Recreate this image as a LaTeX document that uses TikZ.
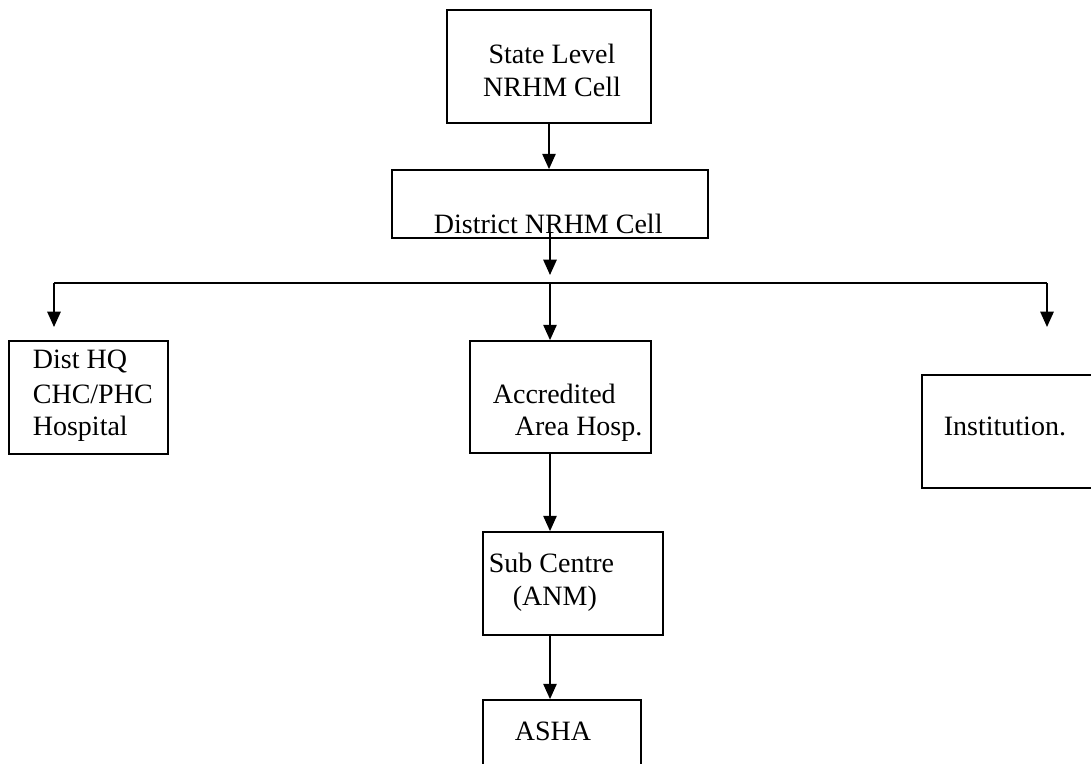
\documentclass[tikz,border=0pt]{standalone}
\usepackage{fontspec}
\setmainfont{Liberation Serif}
\usetikzlibrary{arrows.meta}
\begin{document}
\begin{tikzpicture}[x=.75pt,y=-.75pt,line width=1.3pt,box/.style 2 args={draw,inner sep=0,minimum width=#1*.75pt,minimum height=#2*.75pt},lbl/.style={anchor=base west,inner sep=0,font=\fontsize{21}{25}\selectfont},arr/.style={-{Triangle[length=11.5pt,width=10pt]}}]
\useasboundingbox (0,0) rectangle (1091,763);
\node[box={204}{113}] (state) at (549,66.5){};\node[box={316}{68}] (dist) at (550,204){};
\node[box={159}{113}] (dhq) at (88.5,397.5){};\node[box={181}{112}] (accr) at (560.5,397){};\node[box={171}{113}] (inst) at (1007.5,431.5){};
\node[box={180}{103}] (sub) at (573,583.5){};\node[box={158}{96}] (asha) at (562,748){};
\node[lbl,anchor=base] (stateA) at (552,64){State Level};\node[lbl,anchor=base] (stateB) at (552,97){NRHM Cell};
\node[lbl] (distA) at (433,233){District NRHM Cell};
\node[lbl] (dhqA) at (32,368){Dist HQ};\node[lbl] (dhqB) at (32,403){CHC/PHC};\node[lbl] (dhqC) at (32,435){Hospital};
\node[lbl] (accrA) at (492,403){Accredited};\node[lbl] (accrB) at (514,435){Area Hosp.};
\node[lbl] (instA) at (943,435){Institution.};
\node[lbl] (subA) at (488,572){Sub Centre};\node[lbl] (subB) at (512,605){(ANM)};
\node[lbl] (ashaA) at (514,740){ASHA};
\coordinate (bus) at (550,283);\coordinate (busL) at (54,283);\coordinate (busR) at (1047,283);
\coordinate (distOut) at (550,232);\coordinate (distTip) at (550,275);\coordinate (dhqTip) at (54,327);\coordinate (instTip) at (1047,327);
\draw[arr] (state.south) -- (state.south|-dist.north);
\draw[arr] (distOut) -- (distTip);
\draw (busL) -- (busR);
\draw[arr] (busL) -- (dhqTip);\draw[arr] (busR) -- (instTip);\draw[arr] (bus) -- (bus|-accr.north);
\draw[arr] (bus|-accr.south) -- (bus|-sub.north);\draw[arr] (bus|-sub.south) -- (bus|-asha.north);
\end{tikzpicture}
\end{document}
